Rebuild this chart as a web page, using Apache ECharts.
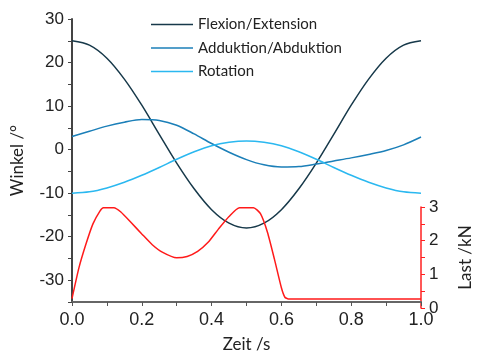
<!DOCTYPE html>
<html>
<head>
<meta charset="utf-8">
<script src="https://cdn.jsdelivr.net/npm/echarts@6/dist/echarts.min.js"></script>
<style>
  html, body { margin: 0; padding: 0; background: #fff; }
  #chart { width: 482px; height: 358px; }
</style>
</head>
<body>
<div id="chart"></div>
<script>
// Zeit /s
const zeit = [0, 0.05, 0.1, 0.15, 0.2, 0.25, 0.3, 0.35, 0.4, 0.45, 0.5,
              0.55, 0.6, 0.65, 0.7, 0.75, 0.8, 0.85, 0.9, 0.95, 1.0]
// Winkel /°
const flexion = [25, 24.0, 21.0, 16.2, 10.2, 3.5, -3.1, -9.0, -13.8, -16.9, -18,
                 -16.9, -13.8, -9.0, -3.1, 3.5, 10.2, 16.2, 21.0, 24.0, 25]
const adduktion = [3.0, 4.2, 5.4, 6.3, 6.9, 6.7, 5.6, 3.6, 1.4, -0.6, -2.3,
                   -3.5, -4.0, -3.9, -3.3, -2.6, -1.9, -1.1, -0.2, 1.1, 2.9]
const rotation = [-10, -9.7, -8.8, -7.5, -5.9, -4.1, -2.2, -0.5, 0.9, 1.7, 2.0,
                  1.7, 0.9, -0.5, -2.2, -4.1, -5.9, -7.5, -8.8, -9.7, -10]
// Last /kN
const lastZeit = [0, 0.02, 0.04, 0.06, 0.08, 0.09, 0.12, 0.14, 0.17, 0.2, 0.23, 0.26, 0.3,
                  0.33, 0.36, 0.39, 0.42, 0.45, 0.48, 0.52, 0.54, 0.56, 0.58, 0.6, 0.61, 0.62, 1.0]
const last = [0.28, 1.2, 1.9, 2.5, 2.88, 2.98, 2.98, 2.85, 2.53, 2.2, 1.88, 1.65, 1.49,
              1.53, 1.68, 1.95, 2.35, 2.72, 2.98, 2.98, 2.8, 2.25, 1.45, 0.6, 0.32, 0.27, 0.27]

const names = ['Flexion/Extension', 'Adduktion/Abduktion', 'Rotation']
const colors = ['#17394a', '#1b7fb8', '#2bb8f0']

const pair = (xs, ys) => xs.map((x, i) => [x, ys[i]])
const tickFont = 'Liberation Sans'
const nameFont = 'Lato'

const chart = echarts.init(document.getElementById('chart'))
chart.setOption({
  animation: false,
  backgroundColor: '#fff',
  grid: [
    { left: 72, right: 61, top: 19, bottom: 50 },
    { left: 72, right: 61, top: 207, bottom: 50 }
  ],
  legend: {
    orient: 'vertical',
    left: 146,
    top: 12,
    itemGap: 8.5,
    itemWidth: 42,
    itemHeight: 1.5,
    icon: 'rect',
    data: names,
    textStyle: { fontFamily: nameFont, fontSize: 15, color: '#222', padding: [0, 0, 0, 0] }
  },
  xAxis: [
    {
      gridIndex: 0, type: 'value', min: 0, max: 1, interval: 0.1,
      name: 'Zeit /s', nameLocation: 'middle', nameGap: 34,
      nameTextStyle: { fontFamily: nameFont, fontSize: 17, color: '#222' },
      axisLine: { onZero: false, lineStyle: { color: '#666', width: 2 } },
      axisTick: { lineStyle: { color: '#555' }, length: 4 },
      splitLine: { show: false },
      axisLabel: {
        fontFamily: tickFont, fontSize: 18, color: '#222', margin: 9,
        formatter: v => (Math.round(v * 10) % 2 === 0 ? v.toFixed(1) : '')
      }
    },
    { gridIndex: 1, type: 'value', min: 0, max: 1, show: false }
  ],
  yAxis: [
    {
      gridIndex: 0, type: 'value', min: -35, max: 30, interval: 5,
      name: 'Winkel /°', nameLocation: 'middle', nameGap: 46,
      nameTextStyle: { fontFamily: nameFont, fontSize: 17, color: '#222' },
      axisLine: { show: true, onZero: false, lineStyle: { color: '#444', width: 2 } },
      axisTick: { show: true, length: 4, lineStyle: { color: '#444' } },
      splitLine: { show: false },
      axisLabel: {
        fontFamily: tickFont, fontSize: 17, color: '#222', margin: 8,
        formatter: v => (v % 10 === 0 ? String(v) : '')
      }
    },
    {
      gridIndex: 1, type: 'value', position: 'right', min: 0, max: 3, interval: 0.5,
      name: 'Last /kN', nameLocation: 'middle', nameGap: 36, nameRotate: 90,
      nameTextStyle: { fontFamily: nameFont, fontSize: 17, color: '#222' },
      axisLine: { show: true, onZero: false, lineStyle: { color: '#ff2020', width: 1.5 } },
      axisTick: { show: true, length: 4, lineStyle: { color: '#ff2020' } },
      splitLine: { show: false },
      axisLabel: {
        fontFamily: tickFont, fontSize: 17, color: '#222', margin: 8,
        formatter: v => (v % 1 === 0 ? String(v) : '')
      }
    }
  ],
  series: [
    ...[flexion, adduktion, rotation].map((d, i) => ({
      name: names[i], type: 'line', xAxisIndex: 0, yAxisIndex: 0,
      data: pair(zeit, d), smooth: 0.3, showSymbol: false,
      color: colors[i], lineStyle: { width: 1.5, color: colors[i] }
    })),
    {
      name: 'Last', type: 'line', xAxisIndex: 1, yAxisIndex: 1,
      data: pair(lastZeit, last), smooth: 0.2, showSymbol: false,
      color: '#ff1a1a', lineStyle: { width: 1.5, color: '#ff1a1a' }
    }
  ]
})
</script>
</body>
</html>
